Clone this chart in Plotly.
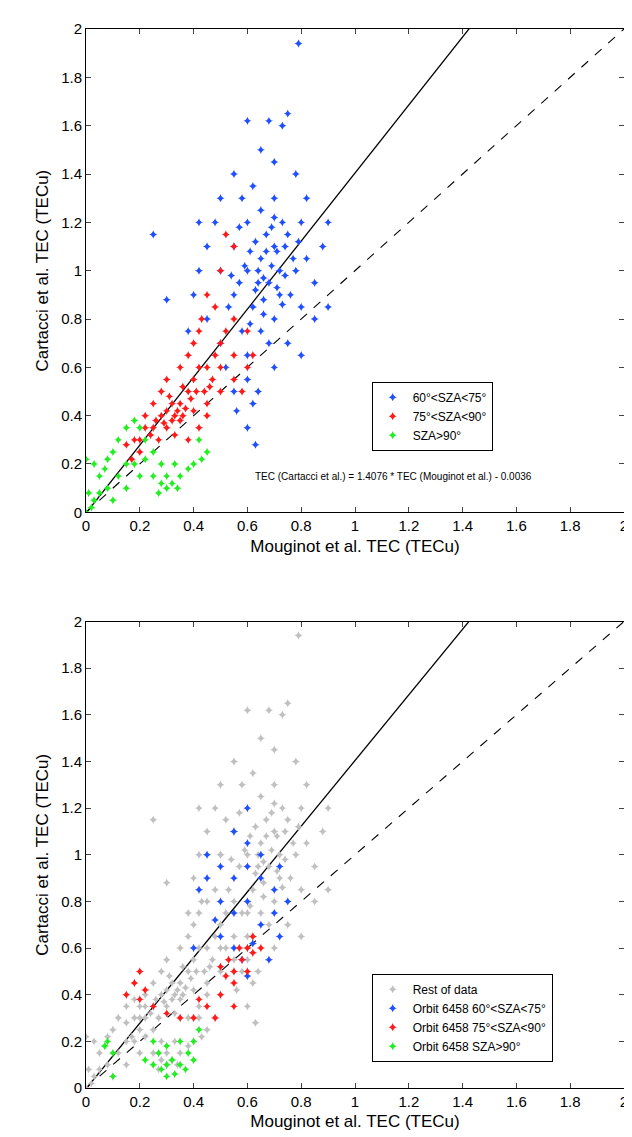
import plotly.graph_objects as go

# top panel, points
blue_x = [0.55, 0.6, 0.65, 0.7, 0.62, 0.58, 0.68, 0.72, 0.75, 0.8, 0.5, 0.52, 0.55, 0.6, 0.62, 0.6, 0.63, 0.7, 0.75, 0.8,
          0.85, 0.88, 0.9, 0.82, 0.78, 0.7, 0.65, 0.6, 0.68, 0.73, 0.75, 0.55, 0.5, 0.48, 0.45, 0.42, 0.4, 0.45, 0.5, 0.55,
          0.6, 0.65, 0.7, 0.58, 0.62, 0.67, 0.73, 0.77, 0.65, 0.7, 0.6, 0.68, 0.72, 0.82, 0.85, 0.8, 0.57, 0.53, 0.63, 0.66,
          0.25, 0.3, 0.79, 0.42, 0.38, 0.9, 0.56, 0.64, 0.74, 0.61,
          0.64, 0.69, 0.71, 0.66, 0.59, 0.76, 0.78, 0.74, 0.69, 0.63, 0.57, 0.67, 0.71, 0.79, 0.61, 0.54, 0.66, 0.73, 0.7, 0.64]
blue_y = [0.9, 1.0, 1.05, 1.1, 0.85, 0.75, 0.95, 1.0, 1.15, 1.2, 0.7, 0.6, 0.5, 0.55, 0.45, 0.35, 0.28, 0.6, 0.7, 0.85,
          0.95, 1.1, 1.2, 1.3, 1.4, 1.45, 1.5, 1.62, 1.62, 1.6, 1.65, 1.4, 1.3, 1.2, 1.1, 1.0, 0.9, 0.8, 1.0, 1.1,
          1.2, 1.25, 1.3, 1.3, 1.35, 1.15, 1.2, 1.05, 0.75, 0.8, 0.65, 0.7, 0.9, 1.05, 0.8, 0.65, 0.95, 0.85, 0.92, 0.88,
          1.15, 0.88, 1.94, 1.2, 0.75, 0.85, 0.42, 0.5, 0.98, 1.08,
          1.0, 1.02, 1.08, 0.97, 1.02, 0.9, 1.0, 1.1, 1.18, 1.12, 1.18, 1.08, 0.93, 1.12, 0.78, 0.98, 0.82, 0.86, 1.22, 0.95]
red_x = [0.15, 0.18, 0.2, 0.22, 0.25, 0.28, 0.3, 0.32, 0.35, 0.38, 0.4, 0.42, 0.45, 0.48, 0.5, 0.52, 0.55, 0.45, 0.5, 0.55,
         0.52, 0.48, 0.42, 0.38, 0.35, 0.3, 0.28, 0.25, 0.22, 0.3, 0.35, 0.4, 0.45, 0.5, 0.55, 0.6, 0.62, 0.58, 0.45, 0.42,
         0.38, 0.33, 0.27, 0.4, 0.43, 0.47, 0.36, 0.31, 0.2, 0.17, 0.55, 0.6, 0.5, 0.44, 0.34,
         0.26, 0.29, 0.33, 0.37, 0.39, 0.41, 0.36, 0.32, 0.24, 0.46]
red_y = [0.28, 0.3, 0.3, 0.35, 0.35, 0.4, 0.42, 0.45, 0.45, 0.5, 0.55, 0.6, 0.6, 0.65, 0.7, 0.75, 0.8, 0.9, 1.0, 1.1,
         1.15, 0.85, 0.75, 0.65, 0.6, 0.55, 0.5, 0.45, 0.4, 0.35, 0.38, 0.42, 0.45, 0.5, 0.55, 0.6, 0.65, 0.5, 0.4, 0.35,
         0.3, 0.32, 0.3, 0.7, 0.8, 0.55, 0.52, 0.48, 0.25, 0.22, 0.65, 0.75, 0.6, 0.5, 0.42,
         0.38, 0.37, 0.4, 0.43, 0.47, 0.5, 0.4, 0.38, 0.32, 0.52]
green_x = [0, 0.02, 0.03, 0.05, 0.05, 0.03, 0, 0.08, 0.1, 0.12, 0.15, 0.18, 0.2, 0.22, 0.25, 0.28, 0.3, 0.32, 0.3, 0.28,
           0.35, 0.38, 0.4, 0.43, 0.45, 0.33, 0.15, 0.1, 0.12, 0.08, 0.18, 0.2, 0.15, 0.25, 0.42, 0.07, 0.01, 0.22, 0.27, 0.34]
green_y = [0, 0.02, 0.05, 0.08, 0.15, 0.2, 0.22, 0.22, 0.25, 0.3, 0.35, 0.38, 0.35, 0.3, 0.25, 0.2, 0.15, 0.12, 0.1, 0.12,
           0.15, 0.18, 0.2, 0.22, 0.25, 0.2, 0.1, 0.05, 0.15, 0.1, 0.2, 0.15, 0.2, 0.15, 0.3, 0.18, 0.08, 0.22, 0.08, 0.1]

# bottom panel, orbit 6458
orb_blue_x = [0.45, 0.5, 0.55, 0.6, 0.65, 0.7, 0.5, 0.55, 0.6, 0.65, 0.7, 0.75, 0.5, 0.55, 0.58, 0.6, 0.55, 0.45, 0.42, 0.6,
              0.65, 0.72, 0.62, 0.48, 0.68, 0.6, 0.72, 0.4]
orb_blue_y = [0.9, 0.95, 0.9, 0.95, 0.9, 0.85, 0.8, 0.75, 0.8, 0.7, 0.75, 0.8, 0.65, 0.6, 0.55, 1.05, 1.1, 1.0, 0.85, 1.2,
              1.0, 0.95, 0.62, 0.72, 0.55, 0.48, 0.65, 0.6]
orb_red_x = [0.55, 0.58, 0.6, 0.62, 0.55, 0.52, 0.5, 0.45, 0.4, 0.35, 0.3, 0.48, 0.55, 0.6, 0.57, 0.53, 0.15, 0.18, 0.2, 0.22,
             0.2, 0.25, 0.42, 0.62, 0.65, 0.5]
orb_red_y = [0.5, 0.55, 0.6, 0.65, 0.45, 0.48, 0.4, 0.35, 0.3, 0.3, 0.32, 0.3, 0.35, 0.5, 0.6, 0.55, 0.4, 0.45, 0.5, 0.42,
             0.38, 0.35, 0.38, 0.58, 0.6, 0.52]
orb_green_x = [0.07, 0.08, 0.1, 0.1, 0.25, 0.28, 0.3, 0.32, 0.35, 0.38, 0.4, 0.35, 0.3, 0.27, 0.25, 0.22, 0.33, 0.37, 0.3, 0.42, 0.4]
orb_green_y = [0.18, 0.2, 0.15, 0.05, 0.1, 0.08, 0.1, 0.12, 0.1, 0.15, 0.2, 0.2, 0.18, 0.15, 0.2, 0.12, 0.06, 0.08, 0.05, 0.25, 0.12]

line_x = [0, 2]
fit_a, fit_b = 1.4076, -0.0036
fit_y = [fit_a * v + fit_b for v in line_x]

BLUE = "#1f4fff"
RED = "#ff1a1a"
GREEN = "#22ee22"
GREY = "#c0c0c0"

fig = go.Figure()


def pts(x, y, color, name, xa, ya, legend):
    fig.add_trace(go.Scatter(x=x, y=y, mode="markers", name=name, xaxis=xa, yaxis=ya, legend=legend,
                             marker=dict(symbol="star-diamond", size=6, color=color, line=dict(width=0))))


for xa, ya in [("x", "y"), ("x2", "y2")]:
    fig.add_trace(go.Scatter(x=line_x, y=fit_y, mode="lines", xaxis=xa, yaxis=ya, showlegend=False,
                             line=dict(color="black", width=1.3)))
    fig.add_trace(go.Scatter(x=line_x, y=line_x, mode="lines", xaxis=xa, yaxis=ya, showlegend=False,
                             line=dict(color="black", width=1.1, dash="dash")))

pts(blue_x, blue_y, BLUE, "60°<SZA<75°", "x", "y", "legend")
pts(red_x, red_y, RED, "75°<SZA<90°", "x", "y", "legend")
pts(green_x, green_y, GREEN, "SZA>90°", "x", "y", "legend")

pts(blue_x + red_x + green_x, blue_y + red_y + green_y, GREY, "Rest of data", "x2", "y2", "legend2")
pts(orb_blue_x, orb_blue_y, BLUE, "Orbit 6458 60°<SZA<75°", "x2", "y2", "legend2")
pts(orb_red_x, orb_red_y, RED, "Orbit 6458 75°<SZA<90°", "x2", "y2", "legend2")
pts(orb_green_x, orb_green_y, GREEN, "Orbit 6458 SZA>90°", "x2", "y2", "legend2")

ticks = [i * 0.2 for i in range(11)]
ticktext = ["0", "0.2", "0.4", "0.6", "0.8", "1", "1.2", "1.4", "1.6", "1.8", "2"]
ax = dict(range=[0, 2], tickvals=ticks, ticktext=ticktext, ticks="inside", ticklen=5, showgrid=False,
          zeroline=False, showline=True, linecolor="black", linewidth=1, mirror="ticks",
          tickfont=dict(size=15, color="black"))

fig.update_layout(
    width=632, height=1137, plot_bgcolor="white", paper_bgcolor="white",
    margin=dict(l=78, r=12, t=13, b=57),
    font=dict(family="Liberation Sans, Arial", color="black"),
    xaxis=dict(ax, domain=[0, 1], anchor="y",
               title=dict(text="Mouginot et al. TEC (TECu)", font=dict(size=17), standoff=6)),
    yaxis=dict(ax, domain=[0.5436, 1], anchor="x",
               title=dict(text="Cartacci et al. TEC (TECu)", font=dict(size=17), standoff=8)),
    xaxis2=dict(ax, domain=[0, 1], anchor="y2",
                title=dict(text="Mouginot et al. TEC (TECu)", font=dict(size=17), standoff=6)),
    yaxis2=dict(ax, domain=[0, 0.4405], anchor="x2",
                title=dict(text="Cartacci et al. TEC (TECu)", font=dict(size=17), standoff=8)),
    legend=dict(x=0.531, y=0.667, xanchor="left", yanchor="top", bgcolor="white",
                bordercolor="black", borderwidth=1, font=dict(size=12), tracegroupgap=0, itemwidth=30),
    legend2=dict(x=0.531, y=0.108, xanchor="left", yanchor="top", bgcolor="white",
                 bordercolor="black", borderwidth=1, font=dict(size=12), tracegroupgap=0, itemwidth=30),
    annotations=[dict(text="TEC (Cartacci et al.) = 1.4076 * TEC (Mouginot et al.) - 0.0036",
                      x=0.62, y=0.148, xref="x", yref="y", xanchor="left", showarrow=False,
                      font=dict(size=10))],
)

fig.write_html("out.html")
